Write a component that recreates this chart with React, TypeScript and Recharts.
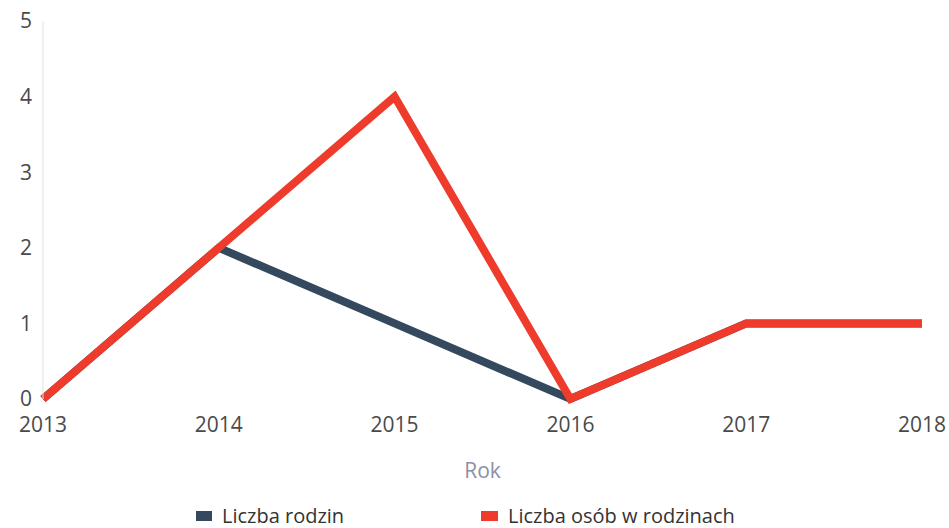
import { LineChart, Line, XAxis, YAxis, Legend } from 'recharts';

const years = ['2013', '2014', '2015', '2016', '2017', '2018'];
const liczbaRodzin = [0, 2, 1, 0, 1, 1];
const liczbaOsob = [0, 2, 4, 0, 1, 1];
const yTicks = [0, 1, 2, 3, 4, 5];

const data = years.map((year, i) => ({
  year,
  rodziny: liczbaRodzin[i],
  osoby: liczbaOsob[i],
}));

const FONT = '"Open Sans", sans-serif';

const renderLegend = () => (
  <div
    style={{
      display: 'flex',
      height: 25,
      lineHeight: '25px',
      paddingLeft: 196,
      fontFamily: FONT,
      fontSize: 20,
      color: '#333',
    }}
  >
    <div style={{ display: 'flex', alignItems: 'center', width: 285 }}>
      <span style={{ display: 'inline-block', width: 16, height: 10, background: '#34495e', marginRight: 10 }} />
      Liczba rodzin
    </div>
    <div style={{ display: 'flex', alignItems: 'center' }}>
      <span style={{ display: 'inline-block', width: 17, height: 10, background: '#ee3b2c', marginRight: 10 }} />
      Liczba osób w rodzinach
    </div>
  </div>
);

export default function App() {
  return (
    <div style={{ position: 'absolute', left: 0, top: 0, background: '#fff' }}>
      <LineChart width={949} height={528} data={data} margin={{ top: 21, right: 27, left: 0, bottom: 0 }}>
        <XAxis
          dataKey="year"
          axisLine={false}
          tickLine={false}
          tickSize={0}
          tickMargin={18}
          height={104}
          tick={{ fill: '#4a4a4a', fontSize: 21, fontFamily: FONT }}
          label={{ value: 'Rok', position: 'insideBottom', offset: 25, fill: '#8b8fa8', fontSize: 21, fontFamily: FONT }}
        />
        <YAxis
          domain={[0, 5]}
          ticks={yTicks}
          width={43}
          axisLine={{ stroke: '#e2e2e2', strokeWidth: 1 }}
          tickLine={false}
          tickSize={0}
          tickMargin={11}
          tick={{ fill: '#4a4a4a', fontSize: 21, fontFamily: FONT }}
        />
        <Legend verticalAlign="bottom" height={25} content={renderLegend} />
        <Line
          type="linear"
          dataKey="rodziny"
          name="Liczba rodzin"
          stroke="#34495e"
          strokeWidth={8}
          dot={false}
          isAnimationActive={false}
        />
        <Line
          type="linear"
          dataKey="osoby"
          name="Liczba osób w rodzinach"
          stroke="#ee3b2c"
          strokeWidth={8}
          dot={false}
          isAnimationActive={false}
        />
      </LineChart>
    </div>
  );
}
